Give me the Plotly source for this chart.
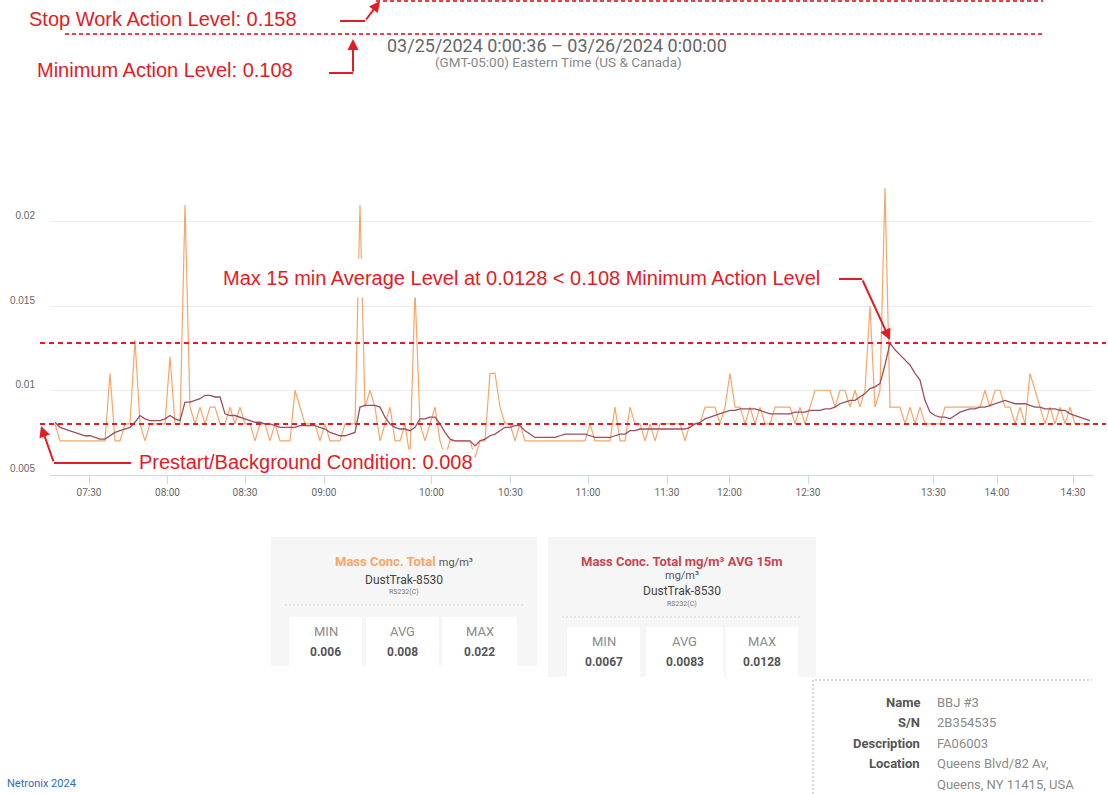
import plotly.graph_objects as go

# ---------------- data ----------------
# samples are plotted on an ordinal (index) axis, as in the original chart
RAW = [
    0.008, 0.007, 0.007, 0.007, 0.007, 0.007, 0.007, 0.007, 0.007, 0.007,
    0.007, 0.011, 0.007, 0.007, 0.008, 0.008, 0.013, 0.008, 0.007, 0.008,
    0.008, 0.008, 0.008, 0.012, 0.008, 0.008, 0.021, 0.009, 0.008, 0.009,
    0.008, 0.009, 0.009, 0.008, 0.008, 0.009, 0.008, 0.009, 0.008, 0.008,
    0.007, 0.008, 0.008, 0.007, 0.008, 0.007, 0.007, 0.007, 0.010, 0.009,
    0.008, 0.008, 0.008, 0.007, 0.008, 0.007, 0.007, 0.007, 0.008, 0.008,
    0.008, 0.021, 0.009, 0.010, 0.009, 0.007, 0.008, 0.009, 0.007, 0.007,
    0.008, 0.006, 0.016, 0.008, 0.007, 0.008, 0.009, 0.007, 0.006, 0.007,
    0.007, 0.007, 0.007, 0.007, 0.006, 0.007, 0.007, 0.011, 0.011, 0.009,
    0.008, 0.008, 0.007, 0.008, 0.007, 0.007, 0.007, 0.007, 0.007, 0.007,
    0.007, 0.007, 0.007, 0.007, 0.007, 0.007, 0.007, 0.008, 0.007, 0.007,
    0.007, 0.007, 0.009, 0.007, 0.007, 0.009, 0.008, 0.008, 0.007, 0.008,
    0.007, 0.008, 0.008, 0.008, 0.008, 0.008, 0.007, 0.008, 0.008, 0.008,
    0.009, 0.009, 0.009, 0.008, 0.009, 0.011, 0.009, 0.009, 0.008, 0.009,
    0.008, 0.009, 0.008, 0.008, 0.009, 0.009, 0.009, 0.009, 0.008, 0.009,
    0.008, 0.009, 0.010, 0.010, 0.010, 0.010, 0.009, 0.010, 0.010, 0.009,
    0.010, 0.009, 0.010, 0.015, 0.009, 0.010, 0.022, 0.009, 0.009, 0.009,
    0.008, 0.009, 0.008, 0.009, 0.008, 0.008, 0.008, 0.008, 0.009, 0.009,
    0.009, 0.009, 0.009, 0.009, 0.009, 0.009, 0.010, 0.009, 0.010, 0.010,
    0.009, 0.009, 0.008, 0.009, 0.008, 0.011, 0.010, 0.009, 0.008, 0.009,
    0.008, 0.009, 0.008, 0.009, 0.008, 0.008, 0.008, 0.008,
]
AVG_15M = [
    0.0081, 0.0078, 0.0077, 0.0076, 0.0075, 0.0074, 0.0073, 0.0073, 0.0072, 0.0071,
    0.0071, 0.0073, 0.0075, 0.0076, 0.0077, 0.0078, 0.0081, 0.0085, 0.0083, 0.0082,
    0.0082, 0.0082, 0.0083, 0.0085, 0.0083, 0.0082, 0.0093, 0.0093, 0.0094, 0.0095,
    0.0097, 0.0097, 0.0096, 0.0096, 0.0086, 0.0085, 0.0085, 0.0084, 0.0083, 0.0082,
    0.0081, 0.0081, 0.0080, 0.0080, 0.0079, 0.0078, 0.0078, 0.0078, 0.0078, 0.0079,
    0.0079, 0.0079, 0.0079, 0.0078, 0.0077, 0.0075, 0.0074, 0.0073, 0.0073, 0.0074,
    0.0075, 0.0090, 0.0091, 0.0091, 0.0091, 0.0090, 0.0084, 0.0080, 0.0078, 0.0077,
    0.0077, 0.0076, 0.0078, 0.0083, 0.0083, 0.0084, 0.0084, 0.0080, 0.0075, 0.0071,
    0.0070, 0.0070, 0.0070, 0.0070, 0.0067, 0.0070, 0.0071, 0.0073, 0.0074, 0.0076,
    0.0078, 0.0078, 0.0079, 0.0079, 0.0076, 0.0074, 0.0072, 0.0072, 0.0072, 0.0072,
    0.0072, 0.0073, 0.0074, 0.0074, 0.0074, 0.0074, 0.0074, 0.0073, 0.0072, 0.0072,
    0.0072, 0.0072, 0.0073, 0.0074, 0.0074, 0.0076, 0.0076, 0.0077, 0.0077, 0.0077,
    0.0077, 0.0077, 0.0077, 0.0077, 0.0077, 0.0077, 0.0077, 0.0078, 0.0080, 0.0081,
    0.0083, 0.0084, 0.0085, 0.0086, 0.0087, 0.0088, 0.0088, 0.0089, 0.0089, 0.0089,
    0.0089, 0.0088, 0.0087, 0.0086, 0.0086, 0.0086, 0.0086, 0.0086, 0.0087, 0.0087,
    0.0087, 0.0088, 0.0088, 0.0088, 0.0089, 0.0089, 0.0090, 0.0092, 0.0093, 0.0094,
    0.0094, 0.0096, 0.0098, 0.0101, 0.0102, 0.0104, 0.0115, 0.0128, 0.0124, 0.0121,
    0.0118, 0.0115, 0.0110, 0.0106, 0.0094, 0.0087, 0.0085, 0.0084, 0.0084, 0.0083,
    0.0085, 0.0087, 0.0088, 0.0089, 0.0089, 0.0090, 0.0090, 0.0091, 0.0092, 0.0093,
    0.0094, 0.0093, 0.0092, 0.0092, 0.0092, 0.0091, 0.0090, 0.0090, 0.0089, 0.0089,
    0.0089, 0.0088, 0.0088, 0.0086, 0.0085, 0.0084, 0.0083, 0.0082,
]
TICK_LABELS = ["07:30", "08:00", "08:30", "09:00", "10:00", "10:30", "11:00",
               "11:30", "12:00", "12:30", "13:30", "14:00", "14:30"]
TICK_SAMPLE = [6.8, 22.5, 38.0, 53.8, 75.3, 91.1, 106.6,
               122.4, 134.9, 150.6, 175.7, 188.4, 203.6]
Y_TICKS = [0.005, 0.01, 0.015, 0.02, 0.025]
Y_TICK_LABELS = ["0.005", "0.01", "0.015", "0.02", ""]
BACKGROUND_LEVEL = 0.008
MAX_AVG_LEVEL = 0.0128
STAT_NAMES = ["MIN", "AVG", "MAX"]
STATS_RAW = ["0.006", "0.008", "0.022"]
STATS_AVG = ["0.0067", "0.0083", "0.0128"]
INFO_LABELS = ["Name", "S/N", "Description", "Location", ""]
INFO_VALUES = ["BBJ #3", "2B354535", "FA06003", "Queens Blvd/82 Av,", "Queens, NY 11415, USA"]

# ---------------- helpers ----------------
W, H = 1108, 794
RED = "#e31b23"
ORANGE = "#f5a66a"
AVG_COL = "#9a4f60"


def px(x):
    return x / W


def py(y):
    return 1 - y / H


x_idx = list(range(len(RAW)))

fig = go.Figure()
fig.add_trace(go.Scatter(x=x_idx, y=RAW, mode="lines",
                         line=dict(color=ORANGE, width=1.2), hoverinfo="skip"))
fig.add_trace(go.Scatter(x=x_idx, y=AVG_15M, mode="lines",
                         line=dict(color=AVG_COL, width=1.3), hoverinfo="skip"))

shapes = []
annotations = []

# level lines across the chart
for lvl in (MAX_AVG_LEVEL, BACKGROUND_LEVEL):
    shapes.append(dict(type="line", xref="paper", yref="y", x0=px(40), x1=px(1106),
                       y0=lvl, y1=lvl, line=dict(color=RED, width=2, dash="5px,4px")))
# top dashed lines (action levels above the visible range)
for (x0, yy) in ((376, 1), (65, 34)):
    shapes.append(dict(type="line", xref="paper", yref="paper", x0=px(x0), x1=px(1043),
                       y0=py(yy), y1=py(yy), line=dict(color="#e8404f", width=2, dash="4px,3px")))


def seg(points):
    d = "M " + " L ".join(f"{px(a)},{py(b)}" for a, b in points)
    shapes.append(dict(type="path", xref="paper", yref="paper", path=d,
                       line=dict(color=RED, width=2)))


def arrow(tail, head):
    annotations.append(dict(x=px(head[0]), y=py(head[1]),
                            ax=tail[0] - head[0], ay=tail[1] - head[1],
                            xref="paper", yref="paper", axref="pixel", ayref="pixel",
                            text="", showarrow=True, arrowhead=2, arrowsize=1.1,
                            arrowwidth=2, arrowcolor=RED))


seg([(340, 21), (365, 21)])
arrow((365, 21), (380, 1))
seg([(329, 73), (353, 73)])
arrow((353, 73), (353, 39))
seg([(839, 279), (862, 279)])
arrow((862, 279), (890, 340))
seg([(131, 463), (54, 463)])
arrow((54, 463), (41, 426))


def text(x, y, s, size, color, family="Roboto", xanchor="center", bg=None, pad=0, bold=False):
    if bold:
        s = f"<b>{s}</b>"
    d = dict(x=px(x), y=py(y), xref="paper", yref="paper", text=s, showarrow=False,
             xanchor=xanchor, yanchor="middle",
             font=dict(size=size, color=color, family=family))
    if bg:
        d["bgcolor"] = bg
        d["borderpad"] = pad
    annotations.append(d)


ARIAL = "Liberation Sans, Arial, sans-serif"
text(27, 19, "Stop Work Action Level: 0.158", 20, RED, ARIAL, "left")
text(35, 70, "Minimum Action Level: 0.108", 20, RED, ARIAL, "left")
text(521, 278, "Max 15 min Average Level at 0.0128 < 0.108 Minimum Action Level", 20, RED,
     ARIAL, "center", bg="white", pad=8)
text(137, 462, "Prestart/Background Condition: 0.008", 20, RED, ARIAL, "left", bg="white", pad=1)

# title
text(557, 45, "03/25/2024 0:00:36 \u2013 03/26/2024 0:00:00", 18, "#666")
text(558, 62, "(GMT-05:00) Eastern Time (US & Canada)", 13.5, "#888")

# stat panels


def panel(x0, x1, y0, y1, cells, cy0, cy1, sep_y, title_lines, stats):
    shapes.append(dict(type="rect", xref="paper", yref="paper", x0=px(x0), x1=px(x1),
                       y0=py(y1), y1=py(y0), fillcolor="#f6f6f6", line=dict(width=0),
                       layer="below"))
    shapes.append(dict(type="line", xref="paper", yref="paper", x0=px(x0 + 14), x1=px(x1 - 14),
                       y0=py(sep_y), y1=py(sep_y), line=dict(color="#d8d8d8", width=1, dash="2px,2px")))
    for (cx0, cx1), name, val in zip(cells, STAT_NAMES, stats):
        shapes.append(dict(type="rect", xref="paper", yref="paper", x0=px(cx0), x1=px(cx1),
                           y0=py(cy1), y1=py(cy0), fillcolor="white", line=dict(width=0),
                           layer="below"))
        cx = (cx0 + cx1) / 2
        text(cx, cy0 + 14, name, 13, "#8a8a8a")
        text(cx, cy0 + 35, val, 12, "#555", bold=True)
    for (yy, s, size) in title_lines:
        text((x0 + x1) / 2, yy, s, size, "#444")


panel(271, 537, 537, 666, [(289, 362), (366, 439), (442, 517)], 617, 666, 605,
      [(561, "<b><span style='color:#f5a66a'>Mass Conc. Total</span></b> "
             "<span style='font-size:11px;color:#555'>mg/m\u00b3</span>", 13),
       (580, "DustTrak-8530", 12), (592, "<span style='color:#777'>RS232(C)</span>", 7)],
      STATS_RAW)
panel(548, 816, 537, 677, [(567, 640), (646, 723), (726, 798)], 627, 677, 617,
      [(561, "<b><span style='color:#c4474f'>Mass Conc. Total mg/m\u00b3 AVG 15m</span></b>", 13),
       (575, "<span style='color:#555'>mg/m\u00b3</span>", 11),
       (591, "DustTrak-8530", 12), (604, "<span style='color:#777'>RS232(C)</span>", 7)],
      STATS_AVG)

# device info box
shapes.append(dict(type="path", xref="paper", yref="paper",
                   path=f"M {px(813)},{py(794)} L {px(813)},{py(680)} L {px(1092)},{py(680)}",
                   line=dict(color="#b0b0b0", width=1, dash="2px,2px")))
for k, (lab, val) in enumerate(zip(INFO_LABELS, INFO_VALUES)):
    yy = 702 + k * 20.5
    if lab:
        text(922, yy, lab, 13, "#555", xanchor="right", bold=True)
    text(935, yy, val, 13, "#8a8a8a", xanchor="left")

text(5, 783, "Netronix 2024", 11, "#2e6db4", xanchor="left")

fig.update_layout(
    width=W, height=H, autosize=False,
    margin=dict(l=0, r=0, t=0, b=0),
    paper_bgcolor="white", plot_bgcolor="white",
    showlegend=False,
    shapes=shapes, annotations=annotations,
    xaxis=dict(domain=[px(50), px(1093)], range=[-1, 207.6], tickmode="array",
               tickvals=TICK_SAMPLE, ticktext=TICK_LABELS, showgrid=False, zeroline=False,
               showline=True, linecolor="#ccd6eb", linewidth=1,
               ticks="outside", ticklen=8, tickcolor="#ccd6eb",
               tickfont=dict(size=10, color="#666",
                             family="Liberation Sans Narrow, Arial Narrow, Roboto, sans-serif")),
    yaxis=dict(domain=[py(474.5), py(137.5)], range=[0.005, 0.025], tickmode="array",
               tickvals=Y_TICKS, ticktext=Y_TICK_LABELS, showgrid=True, gridcolor="#ececec",
               zeroline=False, showline=False, ticks="", ticklabelstandoff=14,
               ticklabelshift=-6,
               tickfont=dict(size=10, color="#666", family="Liberation Sans, Arial, sans-serif")),
)

fig.write_html("out.html", config={"displayModeBar": False},
               post_script="document.body.style.margin='0';document.body.style.overflow='hidden';")
